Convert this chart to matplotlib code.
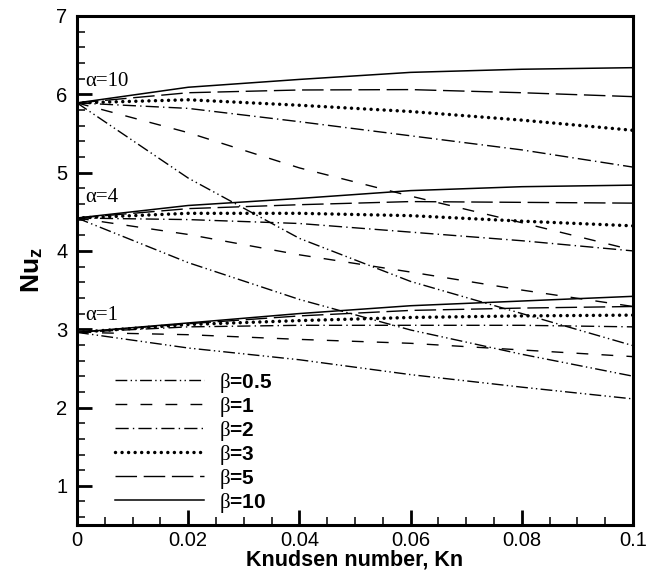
import numpy as np
import matplotlib
matplotlib.use("Agg")
from matplotlib import pyplot as plt
from matplotlib.ticker import MultipleLocator

# Knudsen numbers where the curves are sampled
kn = [0.0, 0.02, 0.04, 0.06, 0.08, 0.1]

betas = ["0.5", "1", "2", "3", "5", "10"]

# Nu_z for alpha = 10, one list per beta
nu_a10_b05 = [5.89, 4.93, 4.16, 3.61, 3.20, 2.79]
nu_a10_b1 = [5.89, 5.51, 5.06, 4.70, 4.36, 4.01]
nu_a10_b2 = [5.89, 5.82, 5.65, 5.47, 5.29, 5.07]
nu_a10_b3 = [5.89, 5.93, 5.86, 5.78, 5.67, 5.54]
nu_a10_b5 = [5.89, 6.02, 6.055, 6.06, 6.02, 5.97]
nu_a10_b10 = [5.89, 6.09, 6.19, 6.28, 6.32, 6.34]

# alpha = 4
nu_a4_b05 = [4.42, 3.85, 3.38, 2.99, 2.68, 2.40]
nu_a4_b1 = [4.42, 4.21, 3.95, 3.73, 3.50, 3.29]
nu_a4_b2 = [4.42, 4.40, 4.35, 4.24, 4.13, 4.00]
nu_a4_b3 = [4.42, 4.48, 4.48, 4.45, 4.38, 4.32]
nu_a4_b5 = [4.42, 4.54, 4.59, 4.63, 4.62, 4.61]
nu_a4_b10 = [4.42, 4.58, 4.67, 4.77, 4.82, 4.84]

# alpha = 1
nu_a1_b05 = [2.96, 2.76, 2.61, 2.42, 2.26, 2.11]
nu_a1_b1 = [2.96, 2.93, 2.87, 2.82, 2.735, 2.65]
nu_a1_b2 = [2.96, 3.03, 3.05, 3.05, 3.05, 3.03]
nu_a1_b3 = [2.96, 3.06, 3.11, 3.15, 3.17, 3.18]
nu_a1_b5 = [2.96, 3.07, 3.17, 3.24, 3.27, 3.29]
nu_a1_b10 = [2.96, 3.08, 3.20, 3.30, 3.36, 3.42]

alpha_labels = ["\u03b1=10", "\u03b1=4", "\u03b1=1"]
alpha_label_y = [6.16, 4.68, 3.18]

plt.rcParams["lines.scale_dashes"] = False
plt.rcParams["mathtext.fontset"] = "custom"
plt.rcParams["mathtext.rm"] = "Liberation Serif"
plt.rcParams["mathtext.it"] = "Liberation Serif:italic"
plt.rcParams["mathtext.bf"] = "Liberation Sans:bold"
plt.rcParams["font.family"] = ["Liberation Sans", "DejaVu Sans"]

styles = [
    dict(ls=(0, (8.5, 2.4, 1, 2.4, 1, 2.4)), lw=1.0),
    dict(ls=(0, (8.5, 9.5)), lw=1.0),
    dict(ls=(0, (9.5, 3, 1, 3)), lw=1.0),
    dict(ls=(0, (0.01, 4.7)), lw=2.5, dash_capstyle="round"),
    dict(ls=(0, (15.5, 4.8)), lw=1.0),
    dict(ls="-", lw=1.1),
]

groups = [
    [nu_a10_b05, nu_a10_b1, nu_a10_b2, nu_a10_b3, nu_a10_b5, nu_a10_b10],
    [nu_a4_b05, nu_a4_b1, nu_a4_b2, nu_a4_b3, nu_a4_b5, nu_a4_b10],
    [nu_a1_b05, nu_a1_b1, nu_a1_b2, nu_a1_b3, nu_a1_b5, nu_a1_b10],
]

fig = plt.figure(figsize=(6.61, 5.73), dpi=100)
ax = fig.add_axes([0.1165, 0.0838, 0.8412, 0.8883])

for g, group in enumerate(groups):
    for b, vals in enumerate(group):
        lab = r"$\mathrm{\beta}$=" + betas[b] if g == 0 else None
        ax.plot(kn, vals, color="black", label=lab, **styles[b])

for txt, y in zip(alpha_labels, alpha_label_y):
    ax.text(0.0015, y, txt, family="Liberation Serif", fontsize=15,
            ha="left", va="center")

ax.set_xlim(0, 0.1)
ax.set_ylim(0.5, 7)
ax.xaxis.set_major_locator(MultipleLocator(0.02))
ax.xaxis.set_minor_locator(MultipleLocator(0.005))
ax.yaxis.set_major_locator(MultipleLocator(1))
ax.yaxis.set_minor_locator(MultipleLocator(0.2))
ax.set_xticks([0, 0.02, 0.04, 0.06, 0.08, 0.1])
ax.set_xticklabels(["0", "0.02", "0.04", "0.06", "0.08", "0.1"])

ax.tick_params(which="both", direction="in", top=False, right=False)
ax.tick_params(which="major", length=11, width=2.0, labelsize=14.5)
ax.tick_params(which="minor", length=6, width=1.1)
ax.tick_params(axis="y", which="major", pad=7)
ax.tick_params(axis="x", which="major", pad=4)
for sp in ax.spines.values():
    sp.set_linewidth(2.2)

ax.set_xlabel("Knudsen number, Kn", fontsize=15.5, fontweight="bold", labelpad=0)
ax.set_ylabel(r"Nu$_\mathbf{z}$", fontsize=19, fontweight="bold", labelpad=8)

ax.legend(loc="center left", bbox_to_anchor=(0.068, 0.162), frameon=False,
          prop=dict(family="Liberation Sans", weight="bold", size=15),
          handlelength=4.3, handletextpad=0.7, labelspacing=0.0,
          borderpad=0, borderaxespad=0)

plt.savefig("out.png", dpi=100)
